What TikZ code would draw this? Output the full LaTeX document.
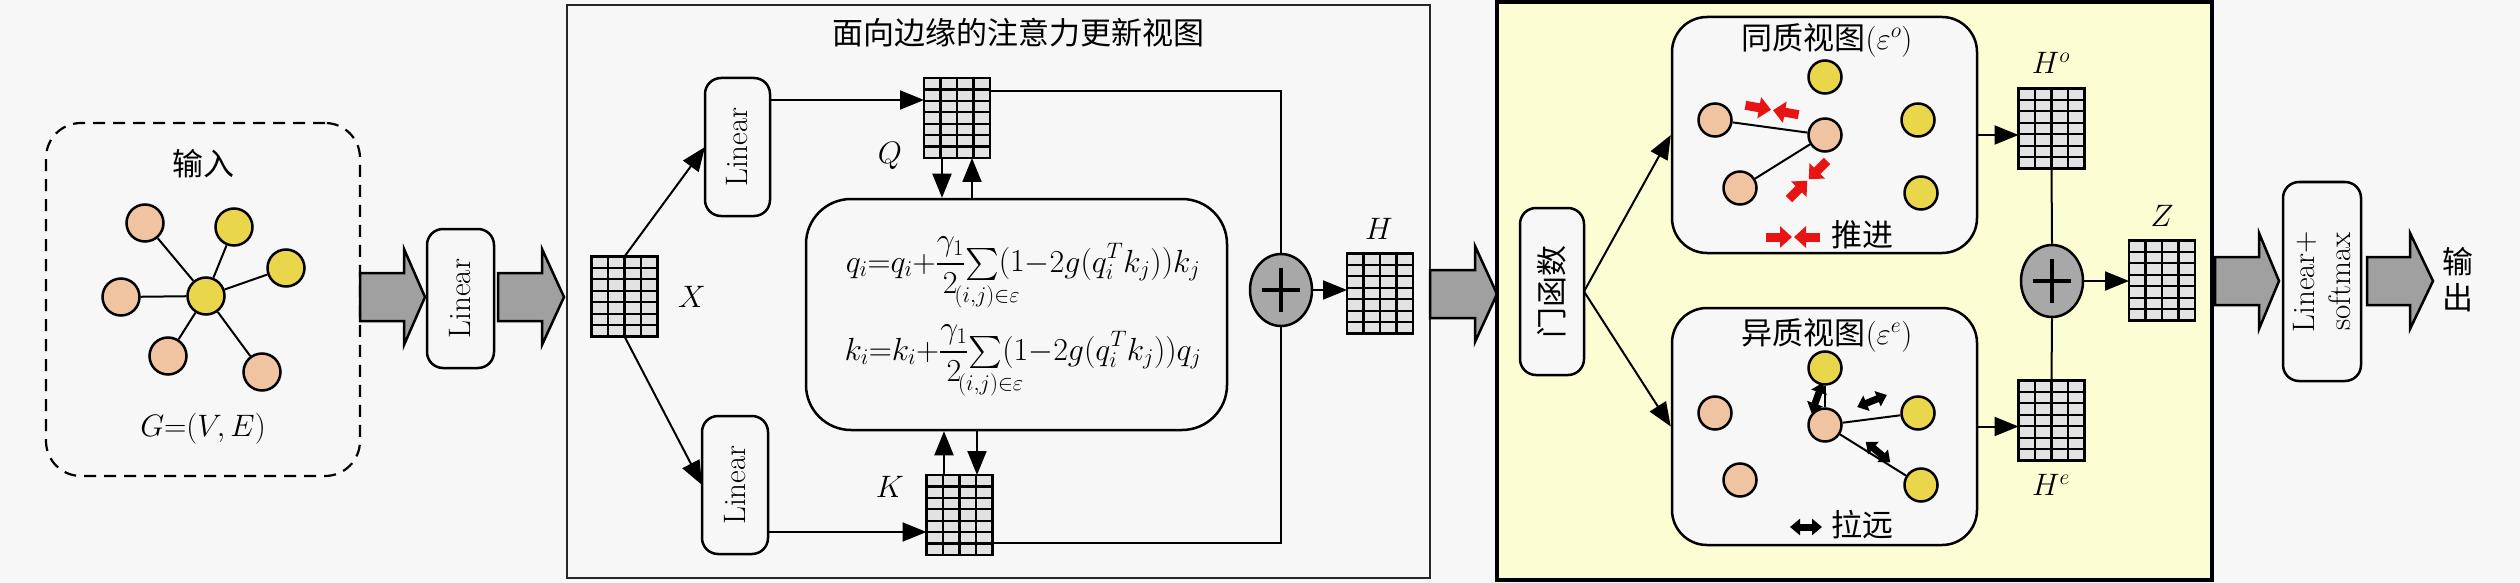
\RequirePackage{fix-cm}
\documentclass[tikz,border=0pt]{standalone}
\DeclareFontShape{OMX}{cmex}{m}{n}{<->cmex10}{}
\usepackage{fontspec}
\newfontfamily\cjk{Noto Sans CJK SC}
\usetikzlibrary{arrows.meta,calc,shapes.geometric}
\definecolor{bgc}{RGB}{247,247,247}
\definecolor{yelbg}{RGB}{253,253,212}
\definecolor{peach}{RGB}{240,196,160}
\definecolor{gold}{RGB}{234,214,74}
\definecolor{matfill}{RGB}{226,226,226}
\definecolor{arrgray}{RGB}{160,160,160}
\definecolor{plusgray}{RGB}{168,168,168}
\definecolor{pushred}{RGB}{232,20,20}
\newcommand\bigarr[4]{\draw[bigarrow] (#1,#4-24) -- (#3,#4-24) -- (#3,#4-48) -- (#2,#4) -- (#3,#4+48) -- (#3,#4+24) -- (#1,#4+24) -- cycle;}
\newcommand\gridify[1]{%
  \foreach \i in {1,2,3}{\draw[line width=2.2pt] ($(#1.north west)!\i/4!(#1.north east)$) -- ($(#1.south west)!\i/4!(#1.south east)$);}
  \foreach \j in {1,...,6}{\draw[line width=2.2pt] ($(#1.north west)!\j/7!(#1.south west)$) -- ($(#1.north east)!\j/7!(#1.south east)$);}
}
\newcommand\plussign[1]{\draw[line width=4pt] ($(#1)+(-19,0)$) -- ($(#1)+(19,0)$); \draw[line width=4pt] ($(#1)+(0,-22)$) -- ($(#1)+(0,22)$);}
\newcommand\pushpair[3]{\begin{scope}[shift={(#1,#2)}, rotate=#3] \draw[pushhalf] (-27,0) -- (-1,0); \draw[pushhalf] (27,0) -- (1,0); \end{scope}}
\newcommand\pullpair[3]{\begin{scope}[shift={(#1,#2)}, rotate=#3] \draw[pullarr] (-16,0) -- (16,0); \end{scope}}
\newcommand\edgesum{{\textstyle\sum\limits_{\rlap{$\scriptstyle(i,j)\in\varepsilon$}}}}
\begin{document}
\begin{tikzpicture}[x=1pt,y=-1pt,
  every node/.style={font=\fontsize{31}{36}\selectfont},
  rbox/.style={draw, line width=2.5pt, rounded corners=16pt, fill=bgc, inner sep=0pt, outer sep=0pt},
  gmat/.style={draw, line width=2.2pt, fill=matfill, minimum width=66pt, minimum height=80pt, inner sep=0pt, outer sep=0pt},
  onode/.style={circle, draw, line width=2.5pt, fill=peach, minimum size=37pt, inner sep=0pt},
  ynode/.style={onode, fill=gold},
  sonode/.style={onode, minimum size=33pt},
  synode/.style={ynode, minimum size=33pt},
  lnk/.style={line width=2pt},
  arr/.style={line width=2pt, -{Triangle[length=24pt,width=19pt]}},
  bigarrow/.style={draw, line width=2.5pt, fill=arrgray, line join=miter},
  plusc/.style={ellipse, draw, line width=2.5pt, fill=plusgray, minimum width=62pt, minimum height=72pt, inner sep=0pt},
  pushhalf/.style={draw=pushred, line width=9pt, -{Triangle[length=12pt,width=21pt]}},
  pullarr/.style={line width=7pt, {Triangle[length=10pt,width=16pt]}-{Triangle[length=10pt,width=16pt]}},
  eqtext/.style={font=\fontsize{32}{38}\selectfont},
]
\useasboundingbox (0,0) rectangle (2520,583);
\fill[bgc] (0,0) rectangle (2520,583);

% ---- input
\node[draw, dash pattern=on 12pt off 8pt, line width=2.2pt, rounded corners=35pt, minimum width=314pt, minimum height=353pt] (inbox) at (203,299.5) {};
\node (intitle) at (203,164) {\cjk 输入};
\node[ynode] (g0) at (206,296) {};
\node[onode] (g1) at (145,223) {};
\node[ynode] (g2) at (234,227) {};
\node[ynode] (g3) at (286,268) {};
\node[onode] (g4) at (121,297) {};
\node[onode] (g5) at (168,356) {};
\node[onode] (g6) at (262,372) {};
\foreach \n in {1,...,6} \draw[lnk] (g0) -- (g\n);
\node (gve) at (203,429) {$G{=}(V,E)$};

\bigarr{360}{425}{404}{297}
\node[rbox, minimum width=67pt, minimum height=139pt, label={[rotate=90]center:Linear}] (lin0) at (460.5,298.5) {};
\bigarr{498}{564}{542}{297}

% ---- middle
\node[draw=black!85, line width=2.5pt, minimum width=863pt, minimum height=573pt] (midbox) at (998.5,291.5) {};
\node (midtitle) at (1018,33) {\cjk 面向边缘的注意力更新视图};
\node[gmat] (X) at (624.5,296.5) {}; \gridify{X}
\node (Xl) at (692,297) {$X$};
\node[rbox, minimum width=65pt, minimum height=138pt, label={[rotate=90]center:Linear}] (lin1) at (737.5,147) {};
\node[rbox, minimum width=66pt, minimum height=138pt, label={[rotate=90]center:Linear}] (lin2) at (735,485) {};
\node[gmat] (Q) at (957,118) {}; \gridify{Q}
\node[gmat] (K) at (959.5,515) {}; \gridify{K}
\node (Ql) at (890,156) {$Q$};
\node (Kl) at (890,487) {$K$};
\node[draw, line width=2.5pt, rounded corners=45pt, minimum width=421pt, minimum height=231pt, fill=bgc] (eq) at (1016.5,314.5) {};
\node[eqtext, anchor=base] (eq1) at (1023,272) {$\displaystyle q_i{=}q_i{+}\frac{\gamma_1}{2}\edgesum\big(1{-}2g(q_i^{T}k_j)\big)k_j$};
\node[eqtext, anchor=base] (eq2) at (1023,360) {$\displaystyle k_i{=}k_i{+}\frac{\gamma_1}{2}\edgesum\big(1{-}2g(q_i^{T}k_j)\big)q_j$};
\draw[arr] (X.north) -- (lin1.west);
\draw[arr] (X.south) -- (lin2.west);
\coordinate (qa) at (0,100);
\coordinate (ka) at (0,532);
\draw[arr] (lin1.east |- qa) -- (Q.west |- qa);
\draw[arr] (lin2.east |- ka) -- (K.west |- ka);
\coordinate (c1) at (942,0);
\coordinate (c2) at (972,0);
\coordinate (c3) at (944,0);
\coordinate (c4) at (977,0);
\draw[arr] (Q.south -| c1) -- (eq.north -| c1);
\draw[arr] (eq.north -| c2) -- (Q.south -| c2);
\draw[arr] (K.north -| c3) -- (eq.south -| c3);
\draw[arr] (eq.south -| c4) -- (K.north -| c4);
\node[plusc] (plus1) at (1281,290) {};
\plussign{plus1}
\coordinate (qb) at (0,91);
\coordinate (kb) at (0,543);
\draw[lnk] (Q.east |- qb) -| (plus1.north);
\draw[lnk] (K.east |- kb) -| (plus1.south);
\node[gmat] (H) at (1380,293.5) {}; \gridify{H}
\node (Hl) at (1379,229) {$H$};
\draw[arr] (plus1.east) -- (plus1.east -| H.west);

\bigarr{1430}{1497}{1475}{294}

% ---- right
\node[draw, line width=3.5pt, fill=yelbg, minimum width=715pt, minimum height=578pt] (ybox) at (1854.5,291) {};
\node[rbox, minimum width=64pt, minimum height=167pt, label={[rotate=90]center:{\cjk 门函数}}] (gate) at (1552,291.5) {};
\node[draw, line width=2.5pt, rounded corners=35pt, fill=bgc, minimum width=305pt, minimum height=236pt] (homo) at (1824.5,135) {};
\node[draw, line width=2.5pt, rounded corners=35pt, fill=bgc, minimum width=305pt, minimum height=237pt] (het) at (1824.5,426.5) {};
\draw[arr] (gate.east) -- (homo.west);
\draw[arr] (gate.east) -- (het.west);

\node (hotitle) at (1827,40) {{\cjk 同质视图}$(\varepsilon^{o})$};
\node[synode] (ho1) at (1825,77) {};
\node[sonode] (ho2) at (1715,120) {};
\node[sonode] (ho3) at (1825,135) {};
\node[sonode] (ho4) at (1740,188) {};
\node[synode] (ho5) at (1918,120) {};
\node[synode] (ho6) at (1921,193) {};
\draw[lnk] (ho2) -- (ho3);
\draw[lnk] (ho4) -- (ho3);
\pushpair{1772}{110}{-10}
\pushpair{1808}{180}{45}
\pushpair{1793}{237}{0}
\node (pushl) at (1862,235) {\cjk 推进};

\node (hetitle) at (1827,335) {{\cjk 异质视图}$(\varepsilon^{e})$};
\node[synode] (he1) at (1825,368) {};
\node[sonode] (he2) at (1715,413) {};
\node[sonode] (he3) at (1825,425) {};
\node[sonode] (he4) at (1740,480) {};
\node[synode] (he5) at (1918,413) {};
\node[synode] (he6) at (1921,485) {};
\draw[lnk] (he3) -- (he1);
\draw[lnk] (he3) -- (he5);
\draw[lnk] (he3) -- (he6);
\pullpair{1817}{398}{70}
\pullpair{1872}{401}{22}
\pullpair{1878}{452}{-40}
\pullpair{1806}{527}{0}
\node (pulll) at (1862,525) {\cjk 拉远};

\node[gmat] (Ho) at (2051.5,128.5) {}; \gridify{Ho}
\node[gmat] (He) at (2051.5,420.5) {}; \gridify{He}
\node (Hol) at (2051,63) {$H^{o}$};
\node (Hel) at (2051,485) {$H^{e}$};
\draw[arr] (homo.east) -- (homo.east -| Ho.west);
\draw[arr] (het.east) -- (het.east -| He.west);
\node[plusc] (plus2) at (2052,281) {};
\plussign{plus2}
\draw[lnk] (Ho.south) -- (plus2.north);
\draw[lnk] (plus2.south) -- (He.north);
\node[gmat] (Z) at (2162,280.5) {}; \gridify{Z}
\node (Zl) at (2162,216) {$Z$};
\draw[arr] (plus2.east) -- (plus2.east -| Z.west);

\bigarr{2215}{2279}{2259}{281}
\node[rbox, minimum width=78pt, minimum height=199pt, label={[rotate=90, align=center]center:{Linear+\\softmax}}] (lsm) at (2322,281.5) {};
\bigarr{2367}{2433}{2410}{281}
\node[align=center, font=\fontsize{31}{36}\selectfont\cjk] (out) at (2458,280) {输\\出};
\end{tikzpicture}
\end{document}
